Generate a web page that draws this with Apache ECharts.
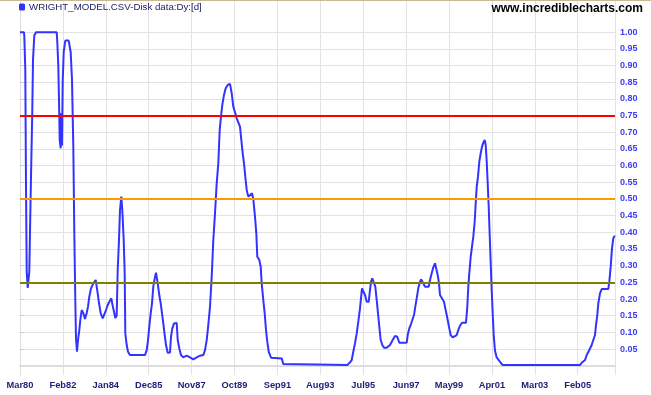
<!DOCTYPE html>
<html>
<head>
<meta charset="utf-8">
<script src="https://cdn.jsdelivr.net/npm/echarts@6/dist/echarts.min.js"></script>
<style>
html,body{margin:0;padding:0;background:#fff;}
#c{width:651px;height:395px;}
</style>
</head>
<body>
<div id="c"></div>
<script>
// x positions: months elapsed since March 1980
const monthsFromMar80 = [
  0, 2.14, 2.3, 2.84, 3.22, 3.59, 4.13, 4.99, 5.36, 5.9, 6.59, 6.97, 7.67, 8.58,
  19.68, 20.0, 20.53, 20.91, 21.28, 21.82, 22.14, 22.52, 22.89, 23.43, 24.29, 25.2, 26.1,
  27.18, 27.88, 28.58, 29.11, 29.65, 30.02, 30.56, 31.1, 31.79, 32.33, 33.08, 33.94, 34.85,
  35.76, 36.46, 37.15, 38.07, 39.3, 40.59, 41.66, 42.35, 43.27, 44.34, 45.2, 46.11, 47.02,
  47.88, 48.95, 49.7, 50.4, 51.09, 51.84, 52.38, 53.08, 53.61, 54.31, 54.85, 55.6, 56.13,
  56.46, 57.21, 57.9, 58.97, 67.0, 67.93, 68.63, 69.32, 70.07, 70.77, 71.47, 72.22, 72.91,
  73.83, 74.68, 75.43, 76.13, 76.83, 77.58, 78.28, 79.19, 80.42, 80.96, 81.65, 82.56, 84.01,
  84.55, 85.41, 86.32, 87.55, 89.37, 91.14, 92.91, 94.74, 96.5, 98.27, 99.19, 100.1, 100.95,
  101.87, 102.78, 103.64, 104.55, 105.46, 106.32, 107.07, 107.76, 108.46, 109.37, 110.28,
  111.36, 112.59, 113.5, 114.36, 115.27, 116.18, 117.25, 117.95, 118.65, 119.4, 120.1,
  120.79, 121.54, 122.4, 123.31, 124.38, 125.08, 125.99, 126.69, 127.22, 128.3, 129.05,
  129.58, 130.44, 131.19, 131.89, 132.58, 133.34, 134.57, 140.3, 141.16, 175.48, 176.92,
  177.84, 178.69, 179.6, 180.52, 181.37, 182.29, 182.82, 183.36, 184.06, 184.97, 185.88,
  186.96, 187.65, 188.19, 188.88, 189.79, 190.49, 191.24, 191.94, 192.63, 193.38, 194.24,
  195.15, 196.6, 198.37, 199.82, 201.05, 202.28, 203.36, 207.33, 207.86, 208.72, 209.63,
  210.54, 211.24, 211.93, 212.68, 213.54, 214.45, 215.15, 216.22, 217.13, 219.12, 219.82,
  220.73, 221.59, 222.5, 223.2, 223.95, 224.64, 225.18, 226.25, 227.32, 228.02, 228.77,
  229.47, 230.16, 230.91, 231.99, 233.06, 234.13, 234.99, 235.9, 236.97, 239.12, 239.82,
  240.35, 240.89, 241.64, 242.33, 243.03, 243.78, 244.32, 244.86, 245.55, 246.25, 247.0,
  247.7, 248.4, 249.15, 249.68, 250.22, 250.75, 251.29, 251.82, 252.36, 252.89, 253.43,
  253.97, 254.66, 255.58, 256.44, 257.72, 258.8, 300.24, 301.15, 302.92, 303.83, 305.22,
  306.51, 307.37, 308.28, 308.82, 309.51, 310.05, 310.96, 311.87, 315.41, 315.95, 316.7,
  317.39, 318.09, 318.84
];
const values = [
  1.00, 1.00, 0.99, 0.887, 0.537, 0.282, 0.233, 0.282, 0.40, 0.567, 0.762, 0.917, 0.99, 1.00,
  1.00, 0.97, 0.90, 0.797, 0.677, 0.652, 0.758, 0.66, 0.852, 0.94, 0.975, 0.98, 0.975,
  0.94, 0.857, 0.657, 0.40, 0.197, 0.082, 0.042, 0.077, 0.107, 0.137, 0.167, 0.158, 0.14,
  0.158, 0.177, 0.207, 0.232, 0.247, 0.257, 0.217, 0.188, 0.157, 0.142, 0.145, 0.167, 0.182,
  0.192, 0.202, 0.18, 0.162, 0.143, 0.15, 0.287, 0.377, 0.467, 0.507, 0.467, 0.377, 0.277,
  0.097, 0.062, 0.042, 0.032, 0.032, 0.047, 0.077, 0.117, 0.157, 0.187, 0.237, 0.262, 0.279,
  0.247, 0.212, 0.187, 0.157, 0.127, 0.092, 0.062, 0.039, 0.04, 0.087, 0.112, 0.127, 0.128,
  0.077, 0.052, 0.032, 0.025, 0.03, 0.025, 0.019, 0.025, 0.03, 0.032, 0.047, 0.077, 0.122,
  0.177, 0.267, 0.377, 0.457, 0.547, 0.607, 0.707, 0.747, 0.782, 0.812, 0.832,
  0.842, 0.845, 0.817, 0.777, 0.76, 0.742, 0.745, 0.717, 0.677, 0.637, 0.607,
  0.567, 0.527, 0.507, 0.505, 0.517, 0.50, 0.447, 0.397, 0.327, 0.317, 0.297,
  0.247, 0.197, 0.157, 0.107, 0.072, 0.042, 0.024, 0.022, 0.005, 0.002, 0.01,
  0.017, 0.042, 0.067, 0.097, 0.132, 0.172, 0.202, 0.232, 0.237, 0.212, 0.192,
  0.192, 0.227, 0.252, 0.262, 0.267, 0.237, 0.197, 0.157, 0.117, 0.077, 0.062,
  0.054, 0.054, 0.062, 0.077, 0.089, 0.087, 0.069, 0.069, 0.092, 0.112, 0.125,
  0.127, 0.152, 0.177, 0.202, 0.232, 0.252, 0.259, 0.257, 0.237, 0.237, 0.257,
  0.277, 0.295, 0.307, 0.29, 0.272, 0.247, 0.212, 0.207, 0.192, 0.172, 0.152,
  0.132, 0.112, 0.092, 0.085, 0.082, 0.092, 0.107, 0.12, 0.129, 0.129, 0.177,
  0.237, 0.277, 0.327, 0.357, 0.387, 0.432, 0.487, 0.537, 0.567, 0.612, 0.637,
  0.657, 0.669, 0.677, 0.662, 0.612, 0.547, 0.477, 0.392, 0.307, 0.227, 0.157,
  0.092, 0.045, 0.025, 0.022, 0.009, 0.002, 0.002, 0.009, 0.017, 0.032, 0.047,
  0.062, 0.077, 0.092, 0.122, 0.152, 0.187, 0.217, 0.23, 0.23, 0.252, 0.297,
  0.352, 0.382, 0.39
];
const thresholdValues = [0.75, 0.50, 0.25];
const thresholdColors = ['#ff0000', '#ff9900', '#808000'];
const yTickValues = [0.05,0.10,0.15,0.20,0.25,0.30,0.35,0.40,0.45,0.50,0.55,0.60,0.65,0.70,0.75,0.80,0.85,0.90,0.95,1.00];
const monthNames = ['Jan','Feb','Mar','Apr','May','Jun','Jul','Aug','Sep','Oct','Nov','Dec'];
const seriesName = 'WRIGHT_MODEL.CSV-Disk data:Dy:[d]';
const xLabelStep = 23;

const seriesData = monthsFromMar80.map((m, i) => [m, values[i]]);

const chart = echarts.init(document.getElementById('c'), null, {renderer: 'canvas'});
const FONT = 'Liberation Sans, Arial, sans-serif';

chart.setOption({
  animation: false,
  backgroundColor: '#ffffff',
  title: {
    text: 'www.incrediblecharts.com',
    right: 8, top: 3, padding: 0,
    textStyle: {fontFamily: FONT, fontSize: 12, fontWeight: 'bold', color: '#000000'}
  },
  legend: {
    left: 19, top: 2, padding: 0,
    icon: 'roundRect', itemWidth: 6, itemHeight: 7, itemGap: 4,
    data: [seriesName],
    textStyle: {fontFamily: FONT, fontSize: 9.7, color: '#222266', padding: [1,0,0,-1]}
  },
  graphic: [{
    type: 'line', shape: {x1: 0, y1: 0.5, x2: 651, y2: 0.5},
    style: {stroke: '#c8b894', lineWidth: 1}, silent: true
  }],
  grid: {left: 20, right: 36, top: 1, bottom: 20, containLabel: false},
  xAxis: {
    type: 'value', min: 0, max: 319, interval: xLabelStep,
    axisLine: {show: true, lineStyle: {color: '#dddddd', width: 2}},
    axisTick: {show: true, length: 2, lineStyle: {color: '#dddddd'}},
    splitLine: {show: true, lineStyle: {color: '#e2e2e2', width: 1}},
    axisLabel: {
      show: true, margin: 6, showMaxLabel: false,
      fontFamily: FONT, fontSize: 9.3, fontWeight: 'bold', color: '#1e1e78',
      formatter: function (v) {
        const k = Math.round(v) + 2;
        const y = 1980 + Math.floor(k / 12);
        return monthNames[k % 12] + String(y % 100).padStart(2, '0');
      }
    }
  },
  yAxis: {
    type: 'value', position: 'right', min: -0.0278, max: 1.0936,
    axisLine: {show: true, lineStyle: {color: '#dddddd', width: 1}},
    axisTick: {show: true, length: 4, customValues: yTickValues, lineStyle: {color: '#c8c8e6'}},
    splitLine: {show: true, lineStyle: {color: '#e2e2e2', width: 1}},
    axisLabel: {
      show: true, margin: 5, customValues: yTickValues,
      fontFamily: FONT, fontSize: 9, fontWeight: 'bold', color: '#3c3cf5',
      formatter: v => v.toFixed(2)
    }
  },
  series: [
    {
      name: seriesName, type: 'line', data: seriesData,
      showSymbol: false, symbol: 'none', z: 2,
      color: '#3333ff',
      lineStyle: {color: '#3333ff', width: 2},
      itemStyle: {color: '#3333ff'}
    },
    {
      name: 'thresholds', type: 'line', data: [], z: 5,
      markLine: {
        silent: true, symbol: ['none', 'none'], animation: false,
        label: {show: false},
        data: thresholdValues.map((t, i) => ({
          yAxis: t, lineStyle: {color: thresholdColors[i], width: 2, type: 'solid'}
        }))
      }
    }
  ]
});
</script>
</body>
</html>
